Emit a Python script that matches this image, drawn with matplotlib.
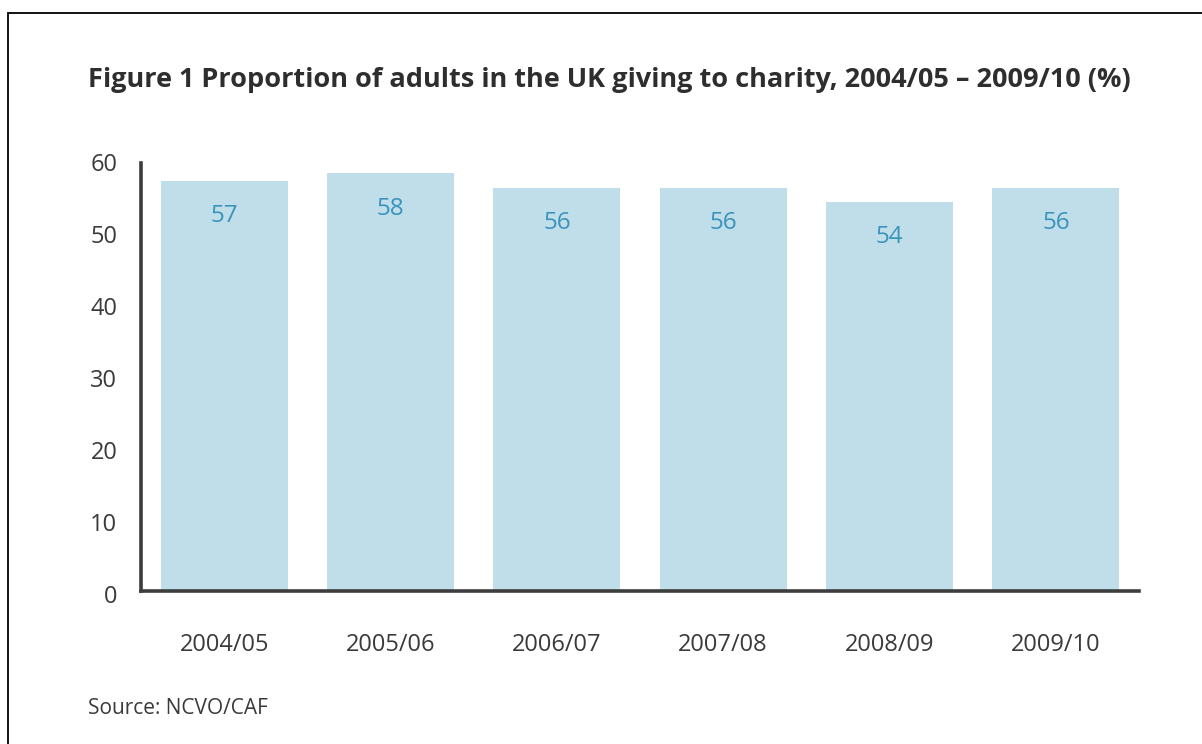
import matplotlib
matplotlib.use('Agg')
import matplotlib.pyplot as plt
from matplotlib.patches import Rectangle
from matplotlib.transforms import ScaledTranslation

# ── Data ─────────────────────────────────────────────────────────────────────
years  = ['2004/05', '2005/06', '2006/07', '2007/08', '2008/09', '2009/10']
giving = [57, 58, 56, 56, 54, 56]
yticks = [0, 10, 20, 30, 40, 50, 60]

BAR   = '#bfdeea'
LABEL = '#3a93bb'
TEXT  = '#3a3a3a'
AXIS  = '#3d3d3d'

plt.rcParams['font.family'] = ['Open Sans', 'DejaVu Sans']

fig = plt.figure(figsize=(12.02, 7.44), dpi=100)
fig.patch.set_facecolor('white')

# frame around the figure (only top and left edges visible in the scan)
fig.patches.append(Rectangle((8 / 1202, -0.05), 1.1, 1 - 13 / 744 + 0.05,
                             transform=fig.transFigure, fill=False,
                             edgecolor='black', lw=1.3))

ax = fig.add_axes([141 / 1202, 1 - 591 / 744, 998 / 1202, 432 / 744])
x = range(len(years))
ax.bar(x, giving, width=0.765, color=BAR, zorder=1)

for xi, v in zip(x, giving):
    ax.text(xi, v - 4.9, str(v), ha='center', va='center',
            color=LABEL, fontsize=17.5)

ax.set_xlim(-0.5, len(years) - 0.5)
ax.set_ylim(0, 60)
ax.set_xticks(list(x))
ax.set_xticklabels(years)
ax.set_yticks(yticks)

for s in ['top', 'right']:
    ax.spines[s].set_visible(False)
for s in ['left', 'bottom']:
    ax.spines[s].set_color(AXIS)
    ax.spines[s].set_linewidth(2.6)
ax.spines['left'].set_bounds(0, 59.4)

ax.tick_params(axis='both', length=0, labelsize=17, colors=TEXT)
ax.tick_params(axis='x', pad=30)
ax.tick_params(axis='y', pad=17)
for lab in ax.get_yticklabels():
    lab.set_transform(lab.get_transform() +
                      ScaledTranslation(0, -0.03, fig.dpi_scale_trans))

fig.text(88 / 1202, 1 - 80 / 744,
         'Figure 1 Proportion of adults in the UK giving to charity, 2004/05 – 2009/10 (%)',
         fontsize=19.5, fontweight='bold', color='#2e2e2e', va='center', ha='left')
fig.text(88 / 1202, 1 - 708 / 744, 'Source: NCVO/CAF',
         fontsize=15, color=TEXT, va='center', ha='left')

plt.savefig('out.png', dpi=100, facecolor='white')
plt.close()
